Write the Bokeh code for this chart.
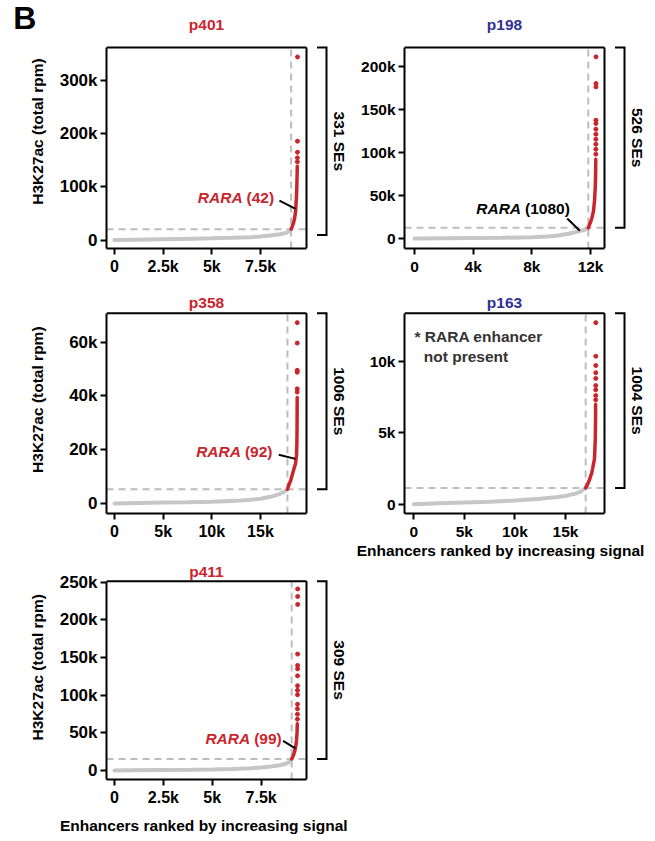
import math
from bokeh.plotting import figure
from bokeh.layouts import column, row
from bokeh.models import Range1d, FixedTicker
from bokeh.core.properties import value
from bokeh.embed import file_html
from bokeh.resources import INLINE

# ------------------------------------------------------------------ data
# p401
P401_XLIM = [-410, 9860]
P401_YLIM = [-15800, 361600]
P401_XTICKS = [0, 2500, 5000, 7500]
P401_XTICK_LABELS = ["0", "2.5k", "5k", "7.5k"]
P401_YTICKS = [0, 100000, 200000, 300000]
P401_YTICK_LABELS = ["0", "100k", "200k", "300k"]
P401_GRAY_RANK = [0, 1000, 2500, 4000, 5000, 6000, 7000, 7500, 8000, 8500, 8800, 9000, 9069]
P401_GRAY_SIGNAL = [0, 800, 1800, 2700, 3300, 4200, 5500, 6800, 8500, 11000, 13500, 17000, 20500]
P401_RED_RANK = [9069, 9117, 9190, 9245, 9300, 9350, 9370, 9380, 9386]
P401_RED_SIGNAL = [20500, 25000, 32000, 40000, 54000, 85000, 110000, 126000, 138600]
P401_DOT_RANK = [9391, 9393, 9395, 9397, 9399]
P401_DOT_SIGNAL = [146900, 154400, 165000, 185700, 343800]
P401_CUTOFF = [9069, 20500]
P401_SE_COUNT = 331
P401_BRACKET_LOW = 9400
P401_RARA_TEXT = ["RARA", "(42)"]
P401_RARA_ANCHOR = [6680, 79600]
P401_RARA_LEADER_RANK = [8470, 9300]
P401_RARA_LEADER_SIGNAL = [74000, 58400]

# p198
P198_XLIM = [-680, 12950]
P198_YLIM = [-11700, 222600]
P198_XTICKS = [0, 4000, 8000, 12000]
P198_XTICK_LABELS = ["0", "4k", "8k", "12k"]
P198_YTICKS = [0, 50000, 100000, 150000, 200000]
P198_YTICK_LABELS = ["0", "50k", "100k", "150k", "200k"]
P198_GRAY_RANK = [0, 2000, 4000, 6000, 8000, 9000, 9500, 10000, 10500, 10860, 11200, 11540, 11844]
P198_GRAY_SIGNAL = [0, 300, 600, 900, 1300, 2200, 3000, 4000, 5500, 7000, 8300, 9700, 12400]
P198_RED_RANK = [11844, 11900, 12000, 12100, 12200, 12270, 12320, 12345, 12355]
P198_RED_SIGNAL = [12400, 15000, 19000, 24500, 32000, 44000, 60000, 75000, 92400]
P198_DOT_RANK = [12359, 12360, 12361, 12362, 12363, 12364, 12365, 12366, 12367, 12368, 12369]
P198_DOT_SIGNAL = [98300, 104000, 109900, 115700, 121600, 127400, 134000, 137900, 176700, 180600, 211700]
P198_CUTOFF = [11844, 12400]
P198_SE_COUNT = 526
P198_BRACKET_LOW = 12400
P198_RARA_TEXT = ["RARA", "(1080)"]
P198_RARA_ANCHOR = [7400, 35000]
P198_RARA_LEADER_RANK = [10410, 11270]
P198_RARA_LEADER_SIGNAL = [23300, 8900]

# p358
P358_XLIM = [-820, 19730]
P358_YLIM = [-3690, 70700]
P358_XTICKS = [0, 5000, 10000, 15000]
P358_XTICK_LABELS = ["0", "5k", "10k", "15k"]
P358_YTICKS = [0, 20000, 40000, 60000]
P358_YTICK_LABELS = ["0", "20k", "40k", "60k"]
P358_GRAY_RANK = [0, 2500, 5000, 7500, 10000, 12500, 14000, 15000, 16000, 16800, 17300, 17774]
P358_GRAY_SIGNAL = [0, 200, 350, 500, 700, 1000, 1400, 1800, 2500, 3300, 4100, 5300]
P358_RED_RANK = [17774, 17910, 18100, 18290, 18450, 18600, 18700, 18740, 18760, 18768, 18772]
P358_RED_SIGNAL = [5300, 6800, 8500, 11000, 13000, 14800, 17800, 22000, 28000, 35000, 39400]
P358_DOT_RANK = [18774, 18775, 18776, 18777, 18778, 18779]
P358_DOT_SIGNAL = [41400, 42600, 48800, 49500, 59600, 67200]
P358_CUTOFF = [17774, 5300]
P358_SE_COUNT = 1006
P358_BRACKET_LOW = 5300
P358_RARA_TEXT = ["RARA", "(92)"]
P358_RARA_ANCHOR = [13200, 19400]
P358_RARA_LEADER_RANK = [16880, 18600]
P358_RARA_LEADER_SIGNAL = [18100, 16600]

# p163
P163_XLIM = [-920, 18860]
P163_YLIM = [-650, 13360]
P163_XTICKS = [0, 5000, 10000, 15000]
P163_XTICK_LABELS = ["0", "5k", "10k", "15k"]
P163_YTICKS = [0, 5000, 10000]
P163_YTICK_LABELS = ["0", "5k", "10k"]
P163_GRAY_RANK = [0, 2500, 5000, 7500, 10000, 12500, 14000, 15000, 16000, 16500, 16996]
P163_GRAY_SIGNAL = [0, 60, 120, 180, 260, 380, 480, 580, 740, 880, 1140]
P163_RED_RANK = [16996, 17200, 17410, 17600, 17680, 17870, 17950, 17975, 17982]
P163_RED_SIGNAL = [1140, 1400, 1780, 2200, 2480, 3170, 4560, 6000, 7000]
P163_DOT_RANK = [17991, 17992, 17993, 17994, 17995, 17996, 17997, 17998, 17999]
P163_DOT_SIGNAL = [7300, 7600, 8000, 8300, 8800, 9200, 9700, 10350, 12700]
P163_CUTOFF = [16996, 1140]
P163_SE_COUNT = 1004
P163_BRACKET_LOW = 1140
P163_NOTE_TEXT = ["* RARA enhancer", "not present"]
P163_NOTE_RANK = [70, 990]
P163_NOTE_SIGNAL = [11700, 10350]

# p411
P411_XLIM = [-410, 9820]
P411_YLIM = [-11800, 251300]
P411_XTICKS = [0, 2500, 5000, 7500]
P411_XTICK_LABELS = ["0", "2.5k", "5k", "7.5k"]
P411_YTICKS = [0, 50000, 100000, 150000, 200000, 250000]
P411_YTICK_LABELS = ["0", "50k", "100k", "150k", "200k", "250k"]
P411_GRAY_RANK = [0, 1000, 2500, 4000, 5000, 6000, 7000, 7500, 8000, 8500, 8800, 9000, 9061]
P411_GRAY_SIGNAL = [0, 400, 800, 1200, 1600, 2200, 3200, 4200, 5500, 7500, 9500, 12500, 15400]
P411_RED_RANK = [9061, 9150, 9220, 9270, 9310, 9335, 9350]
P411_RED_SIGNAL = [15400, 20000, 26000, 32000, 40000, 50000, 62000]
P411_DOT_RANK = [9356, 9357, 9358, 9359, 9360, 9361, 9362, 9363, 9364, 9365, 9366, 9367, 9368, 9369]
P411_DOT_SIGNAL = [68200, 74800, 82000, 88000, 100700, 106600, 112600, 125700, 135000, 139500,
                   154600, 220500, 231000, 241000]
P411_CUTOFF = [9061, 15400]
P411_SE_COUNT = 309
P411_BRACKET_LOW = 15400
P411_RARA_TEXT = ["RARA", "(99)"]
P411_RARA_ANCHOR = [7040, 42600]
P411_RARA_LEADER_RANK = [8620, 9250]
P411_RARA_LEADER_SIGNAL = [39500, 29500]

Y_LABEL = "H3K27ac (total rpm)"
X_LABEL = "Enhancers ranked by increasing signal"
PANEL_LETTER = "B"

# ------------------------------------------------------------------ style
FONT = "Liberation Sans"
FS = "15.5px"
RED = "#c9252c"
BLUE = "#2e3192"
GRAY = "#c6c6c6"
DASH_GRAY = "#bdbdbd"
NOTE_GRAY = "#333333"
BOX_W = 200
STRIP_W = 56


def spec(prefix, title, title_color, rara_color=None, note=False):
    g = globals()
    d = dict(
        title=title, title_color=title_color,
        xlim=g[prefix + "_XLIM"], ylim=g[prefix + "_YLIM"],
        xticks=g[prefix + "_XTICKS"], xtick_labels=g[prefix + "_XTICK_LABELS"],
        yticks=g[prefix + "_YTICKS"], ytick_labels=g[prefix + "_YTICK_LABELS"],
        gray=(g[prefix + "_GRAY_RANK"], g[prefix + "_GRAY_SIGNAL"]),
        red=(g[prefix + "_RED_RANK"], g[prefix + "_RED_SIGNAL"]),
        dots=(g[prefix + "_DOT_RANK"], g[prefix + "_DOT_SIGNAL"]),
        cutoff=g[prefix + "_CUTOFF"], se=g[prefix + "_SE_COUNT"],
        bracket_low=g[prefix + "_BRACKET_LOW"],
    )
    if rara_color:
        d["rara"] = dict(text=g[prefix + "_RARA_TEXT"], anchor=g[prefix + "_RARA_ANCHOR"],
                         lr=g[prefix + "_RARA_LEADER_RANK"], ls=g[prefix + "_RARA_LEADER_SIGNAL"],
                         color=rara_color)
    if note:
        d["note"] = (g[prefix + "_NOTE_TEXT"], g[prefix + "_NOTE_RANK"], g[prefix + "_NOTE_SIGNAL"])
    return d


def txt(p, x, y, t, color="black", size=FS, style="bold", align="center", angle=0.0, x_offset=0):
    p.text(x=x, y=y, text=t, angle=angle, text_align=align, text_baseline="middle",
           x_offset=x_offset, text_font=value(FONT), text_font_size=value(size),
           text_font_style=style, text_color=color)


def make_panel(d, width, height, bl, bb, box_h, title_gap, xtick_fs, ytick_fs):
    """Frame reaches the top of the canvas; the box sits at its bottom-left."""
    x0, x1 = d["xlim"]
    y0, y1 = d["ylim"]
    sx = BOX_W / (x1 - x0)
    sy = box_h / (y1 - y0)
    fw = width - bl
    fh = height - bb
    p = figure(width=width, height=height,
               x_range=Range1d(x0, x0 + fw / sx), y_range=Range1d(y0, y0 + fh / sy),
               min_border_left=bl, min_border_right=0, min_border_top=0, min_border_bottom=bb,
               output_backend="svg", toolbar_location=None)
    p.outline_line_color = None
    p.grid.visible = False

    for ax, ticks, labels, b, so, fs in ((p.xaxis, d["xticks"], d["xtick_labels"], (x0, x1), 3, xtick_fs),
                                         (p.yaxis, d["yticks"], d["ytick_labels"], (y0, y1), 3, ytick_fs)):
        ax.ticker = FixedTicker(ticks=ticks)
        ax.major_label_overrides = {t: l for t, l in zip(ticks, labels)}
        ax.bounds = b
        ax.axis_line_width = 2
        ax.axis_line_color = "black"
        ax.major_tick_line_width = 2
        ax.major_tick_line_color = "black"
        ax.major_tick_out = 6
        ax.major_tick_in = 0
        ax.minor_tick_line_color = None
        ax.major_label_text_font = FONT
        ax.major_label_text_font_style = "bold"
        ax.major_label_text_font_size = fs
        ax.major_label_text_color = "black"
        ax.major_label_standoff = so

    cr, cs = d["cutoff"]
    p.segment(x0=[cr], y0=[y0], x1=[cr], y1=[y1], line_color=DASH_GRAY, line_width=2, line_dash="7 5")
    p.segment(x0=[x0], y0=[cs], x1=[x1], y1=[cs], line_color=DASH_GRAY, line_width=2, line_dash="7 5")

    p.line(d["gray"][0], d["gray"][1], line_color=GRAY, line_width=4, line_cap="round")
    p.line(d["red"][0], d["red"][1], line_color=RED, line_width=3.5, line_cap="round")
    p.scatter(d["dots"][0], d["dots"][1], size=4, fill_color=RED, line_color=RED)

    # box top and right edges
    p.segment(x0=[x0, x1], y0=[y1, y0], x1=[x1, x1], y1=[y1, y1], line_color="black", line_width=2)

    # super-enhancer bracket
    bx = x1 + 20 / sx
    bxt = x1 + 10.5 / sx
    p.line([bxt, bx, bx, bxt], [y1, y1, d["bracket_low"], d["bracket_low"]],
           line_color="black", line_width=2, line_join="miter")
    txt(p, [x1 + 33 / sx], [(y1 + d["bracket_low"]) / 2], [f"{d['se']} SEs"], angle=-math.pi / 2)

    if "rara" in d:
        r = d["rara"]
        ax_, ay_ = r["anchor"]
        txt(p, [ax_], [ay_], [r["text"][0]], color=r["color"], style="bold italic",
            align="right", x_offset=-2)
        txt(p, [ax_], [ay_], [r["text"][1]], color=r["color"], align="left", x_offset=2)
        p.line(r["lr"], r["ls"], line_color="black", line_width=2)

    if "note" in d:
        texts, nr, ns = d["note"]
        txt(p, nr, ns, texts, color=NOTE_GRAY, align="left")

    # title centred over the box
    txt(p, [(x0 + x1) / 2], [y1 + title_gap / sy], [d["title"]], color=d["title_color"])
    return p


def make_textbox(width, height, items):
    """A blank canvas in pixel units (y downward) holding axis captions."""
    s = figure(width=width, height=height, x_range=Range1d(0, width), y_range=Range1d(height, 0),
               min_border_left=0, min_border_right=0, min_border_top=0, min_border_bottom=0,
               x_axis_type=None, y_axis_type=None, output_backend="svg", toolbar_location=None)
    s.outline_line_color = None
    for (x, y, t, size, angle) in items:
        txt(s, [x], [y], [t], size=size, angle=angle)
    return s


WL, WR = 298, 293
BL = 50
BB = 27
H1, H2, H3, H4 = 280, 262, 266, 30
L_XFS, L_YFS, R_FS = "16px", "17px", "15.5px"

s1 = make_textbox(STRIP_W, H1, [(37, 148, Y_LABEL, FS, math.pi / 2),
                                (24.3, 20, PANEL_LETTER, "32px", 0.0)])
f1 = make_panel(spec("P401", "p401", RED, rara_color=RED), WL, H1, BL, 32, 201,
                title_gap=22.7, xtick_fs=L_XFS, ytick_fs=L_YFS)
f2 = make_panel(spec("P198", "p198", BLUE, rara_color="black"), WR, H1, BL, 32, 201,
                title_gap=23, xtick_fs=R_FS, ytick_fs=R_FS)

s2 = make_textbox(STRIP_W, H2, [(37, 134, Y_LABEL, FS, math.pi / 2)])
f3 = make_panel(spec("P358", "p358", RED, rara_color=RED), WL, H2, BL, BB, 202,
                title_gap=11, xtick_fs=L_XFS, ytick_fs=L_YFS)
f4 = make_panel(spec("P163", "p163", BLUE, note=True), WR, H2, BL, BB, 202,
                title_gap=11, xtick_fs=R_FS, ytick_fs=R_FS)

s3 = make_textbox(STRIP_W, H3, [(37, 140, Y_LABEL, FS, math.pi / 2)])
f5 = make_panel(spec("P411", "p411", RED, rara_color=RED), WL, H3, BL, BB, 200,
                title_gap=10.2, xtick_fs=L_XFS, ytick_fs=L_YFS)
x4 = make_textbox(WR, H3, [(146, 9.5, X_LABEL, FS, 0.0)])

x5 = make_textbox(STRIP_W + WL, H4, [(203.3, 16.5, X_LABEL, FS, 0.0)])

layout = column(row(s1, f1, f2), row(s2, f3, f4), row(s3, f5, x4), x5)
open("out.html", "w").write(file_html(layout, INLINE))
